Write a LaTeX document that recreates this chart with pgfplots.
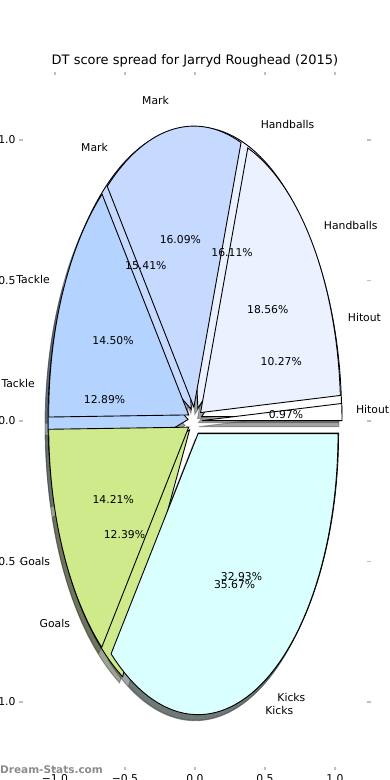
\documentclass[border=0pt]{standalone}
\usepackage{fontspec}
\setmainfont{DejaVu Sans}
\usepackage{pgfplots}
\pgfplotsset{compat=1.18}
\definecolor{cHit}{HTML}{FFFFFF}
\definecolor{cHand}{HTML}{EBF1FF}
\definecolor{cMark}{HTML}{C6D9FF}
\definecolor{cTack}{HTML}{B4D4FF}
\definecolor{cGoal}{HTML}{CFEA8B}
\definecolor{cKick}{HTML}{D9FFFF}
% percentage shares of the DT score (two seasons' pies as drawn)
\newcommand\pieone{0.97/cHit/Hitout, 18.56/cHand/Handballs, 16.09/cMark/Mark, 14.50/cTack/Tackle, 14.21/cGoal/Goals, 35.67/cKick/Kicks}
\newcommand\pietwo{10.27/cHit/Hitout, 16.11/cHand/Handballs, 15.41/cMark/Mark, 12.89/cTack/Tackle, 12.39/cGoal/Goals, 32.93/cKick/Kicks}
\tikzset{lbl/.style={font=\fontsize{10.8}{13}\selectfont, inner sep=0pt, text height=0.76em, text depth=0.24em}}
\newcommand\pielayer[2]{%
 \gdef\cum{0}%
 \foreach \v/\c/\n in #1 {%
   \pgfmathsetmacro\ta{\cum*3.6}%
   \pgfmathsetmacro\tb{(\cum+\v)*3.6}%
   \pgfmathsetmacro\tm{(\ta+\tb)/2}%
   \pgfmathsetmacro\cx{0.05*cos(\tm)}%
   \pgfmathsetmacro\cy{0.05*sin(\tm)}%
   \ifcase#2
     \pgfmathsetmacro\sx{\cx-0.0217}\pgfmathsetmacro\sy{\cy-0.0217}%
     \edef\temp{\noexpand\addplot[draw=\c!30!black, fill=\c!30!black, opacity=0.5, line width=0.9pt, domain=\ta:\tb, samples=60] ({\sx+cos(x)},{\sy+sin(x)}) -- (axis cs:\sx,\sy) -- cycle;}%
   \or
     \edef\temp{\noexpand\addplot[draw=black, fill=\c, line width=0.9pt, domain=\ta:\tb, samples=60] ({\cx+cos(x)},{\cy+sin(x)}) -- (axis cs:\cx,\cy) -- cycle;}%
   \or
     \pgfmathsetmacro\px{\cx+0.6*cos(\tm)}\pgfmathsetmacro\py{\cy+0.6*sin(\tm)}%
     \pgfmathsetmacro\lx{\cx+1.1*cos(\tm)}\pgfmathsetmacro\ly{\cy+1.1*sin(\tm)}%
     \ifdim\lx pt>0pt \def\anc{west}\else\def\anc{east}\fi
     \edef\temp{\noexpand\node[lbl] at (axis cs:\px,\py) {\v\noexpand\%}; \noexpand\node[lbl,anchor=\anc] at (axis cs:\lx,\ly) {\n};}%
   \fi
   \temp
   \pgfmathsetmacro\nc{\cum+\v}\xdef\cum{\nc}%
 }}
\begin{document}
\begin{tikzpicture}
\begin{axis}[
 scale only axis, width=344.4pt, height=691.3pt,
 at={(195pt,359pt)}, anchor=center,
 xmin=-1.23, xmax=1.23, ymin=-1.23, ymax=1.23,
 clip=false,
 axis line style={draw=none},
 tick align=outside, major tick length=3.8pt,
 major tick style={draw=black!25, line width=1.1pt},
 xtick={-1,-0.5,0,0.5,1}, ytick={-1,-0.5,0,0.5,1},
 xticklabels={−1.0,−0.5,0.0,0.5,1.0},
 yticklabels={−1.0,−0.5,0.0,0.5,1.0},
 tick label style={font=\fontsize{10.8}{13}\selectfont, black},
]
\pielayer{\pieone}{0}
\pielayer{\pietwo}{0}
\pielayer{\pietwo}{1}
\pielayer{\pieone}{1}
\pielayer{\pieone}{2}
\pielayer{\pietwo}{2}
\end{axis}
\node[font=\fontsize{13}{15}\selectfont] at (195pt,719pt) {DT score spread for Jarryd Roughead (2015)};
\node[anchor=west, inner sep=0pt, text=black!45, font=\bfseries\fontsize{10.5}{12}\selectfont] at (0pt,10pt) {Dream-Stats.com};
\pgfresetboundingbox
\useasboundingbox (0,0) rectangle (390pt,780pt);
\end{tikzpicture}
\end{document}
